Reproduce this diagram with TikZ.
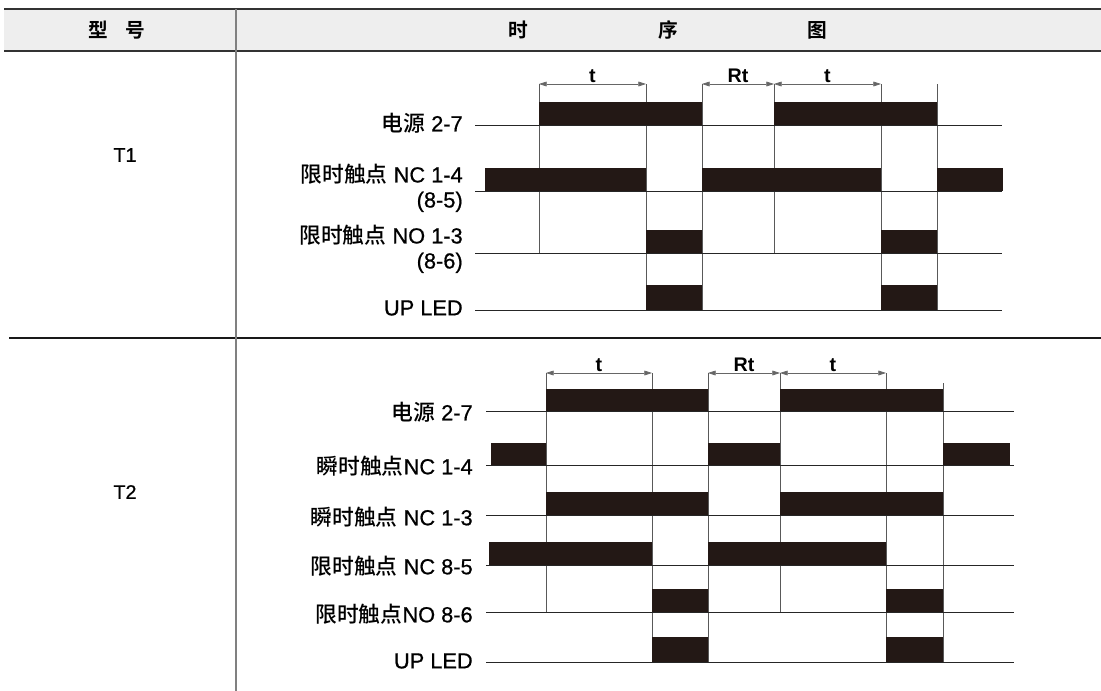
\documentclass[tikz,border=0pt]{standalone}
\usepackage{fontspec}
\setmainfont{Liberation Sans}
\newfontfamily\latin{Liberation Sans}[FakeBold=0.7]
\newfontfamily\cjk{Noto Sans CJK SC Medium}
\newfontfamily\cjkbf{Noto Sans CJK SC Bold}
\usetikzlibrary{arrows.meta}

\definecolor{barblack}{RGB}{35,24,21}
\definecolor{headgray}{RGB}{238,238,238}
\tikzset{
  bar/.style={fill=barblack},
  base/.style={draw=black!85, line width=0.6pt},
  tick/.style={draw=black!65, line width=0.55pt},
  dim/.style={draw=black!60, line width=0.5pt,
    {Triangle[length=5.5pt,width=3.4pt]}-{Triangle[length=5.5pt,width=3.4pt]}},
  sig/.style={anchor=east, align=right, inner sep=0pt,
    font=\fontsize{15.5}{17.8}\selectfont\latin},
  dimlabel/.style={above=1pt, inner sep=0pt, font=\fontsize{14}{15}\selectfont\bfseries},
  head/.style={font=\fontsize{14}{15}\selectfont\cjkbf},
}

\begin{document}
\begin{tikzpicture}[x=0.025cm, y=-0.025cm]
  \useasboundingbox (0,0) rectangle (1101,691);

  % table frame
  \fill[headgray] (4,9) rectangle (1101,51);
  \draw[black!80, line width=1.1pt] (4,9) -- (1101,9);
  \draw[black!80, line width=1.1pt] (4,51) -- (1101,51);
  \draw[black!90, line width=1pt] (9,338) -- (1101,338);
  \draw[black!50, line width=0.8pt] (236,9) -- (236,691);

  \node[head] (type) at (117,30) {型\hspace{0.45cm}号};
  \node[head] (chart) at (668,30) {时\hspace{3.25cm}序\hspace{3.25cm}图};

  \node[font=\fontsize{14}{15}\selectfont\latin] (t1) at (125,155) {T1};
  \node[font=\fontsize{14}{15}\selectfont\latin] (t2) at (125,492) {T2};

  % T1
  \begin{scope}
    \coordinate (a) at (539,84);
    \coordinate (b) at (646,84);
    \coordinate (c) at (702,84);
    \coordinate (d) at (774,84);
    \coordinate (e) at (881,84);
    \coordinate (f) at (937,84);

    \draw[tick] (a) -- (539,253);
    \draw[tick] (b) -- (646,310);
    \draw[tick] (c) -- (702,310);
    \draw[tick] (d) -- (774,253);
    \draw[tick] (e) -- (881,310);
    \draw[tick] (f) -- (937,310);

    \draw[base] (475,125) -- (1002,125);
    \draw[base] (475,191) -- (1002,191);
    \draw[base] (475,253) -- (1002,253);
    \draw[base] (475,310) -- (1002,310);

    \fill[bar] (539,102) rectangle (702,125);
    \fill[bar] (774,102) rectangle (937,125);
    \fill[bar] (485,168) rectangle (646,191);
    \fill[bar] (702,168) rectangle (881,191);
    \fill[bar] (937,168) rectangle (1003,191);
    \fill[bar] (646,230) rectangle (702,253);
    \fill[bar] (881,230) rectangle (937,253);
    \fill[bar] (646,285) rectangle (702,310);
    \fill[bar] (881,285) rectangle (937,310);

    \draw[dim] (a) -- node[dimlabel] (ta) {t} (b);
    \draw[dim] (c) -- node[dimlabel] (rta) {Rt} (d);
    \draw[dim] (d) -- node[dimlabel] (tb) {t} (e);

    \node[sig] (pwra) at (463,123) {{\cjk 电源} 2-7};
    \node[sig] (nca) at (463,188) {{\cjk 限时触点} NC 1-4\\(8-5)};
    \node[sig] (noa) at (463,249) {{\cjk 限时触点} NO 1-3\\(8-6)};
    \node[sig] (leda) at (463,308) {UP LED};
  \end{scope}

  % T2
  \begin{scope}
    \coordinate (a) at (546,373);
    \coordinate (b) at (652,373);
    \coordinate (c) at (708,373);
    \coordinate (d) at (780,373);
    \coordinate (e) at (886,373);

    \draw[tick] (a) -- (546,612);
    \draw[tick] (b) -- (652,662);
    \draw[tick] (c) -- (708,662);
    \draw[tick] (d) -- (780,612);
    \draw[tick] (e) -- (886,662);
    \draw[tick] (943,383) -- (943,662);

    \draw[base] (486,411) -- (1014,411);
    \draw[base] (486,465) -- (1014,465);
    \draw[base] (486,515) -- (1014,515);
    \draw[base] (486,565) -- (1014,565);
    \draw[base] (486,612) -- (1014,612);
    \draw[base] (486,662) -- (1014,662);

    \fill[bar] (546,389) rectangle (708,411);
    \fill[bar] (780,389) rectangle (943,411);
    \fill[bar] (491,443) rectangle (546,465);
    \fill[bar] (708,443) rectangle (780,465);
    \fill[bar] (943,443) rectangle (1010,465);
    \fill[bar] (546,492) rectangle (708,515);
    \fill[bar] (780,492) rectangle (943,515);
    \fill[bar] (489,542) rectangle (652,565);
    \fill[bar] (708,542) rectangle (886,565);
    \fill[bar] (652,589) rectangle (708,612);
    \fill[bar] (886,589) rectangle (943,612);
    \fill[bar] (652,637) rectangle (708,662);
    \fill[bar] (886,637) rectangle (943,662);

    \draw[dim] (a) -- node[dimlabel] (tc) {t} (b);
    \draw[dim] (c) -- node[dimlabel] (rtb) {Rt} (d);
    \draw[dim] (d) -- node[dimlabel] (td) {t} (e);

    \node[sig] (pwrb) at (473,412) {{\cjk 电源} 2-7};
    \node[sig] (nc14) at (473,466) {{\cjk 瞬时触点}NC 1-4};
    \node[sig] (nc13) at (473,517) {{\cjk 瞬时触点} NC 1-3};
    \node[sig] (nc85) at (473,566) {{\cjk 限时触点} NC 8-5};
    \node[sig] (no86) at (473,614) {{\cjk 限时触点}NO 8-6};
    \node[sig] (ledb) at (473,661) {UP LED};
  \end{scope}
\end{tikzpicture}
\end{document}
